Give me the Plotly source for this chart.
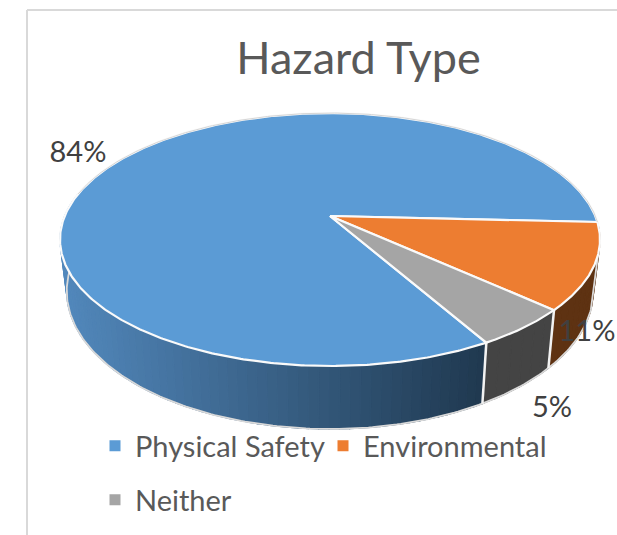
import numpy as np
import plotly.graph_objects as go

categories = ["Physical Safety", "Environmental", "Neither"]
shares = [84, 11, 5]
top_colors = ["#5B9BD5", "#ED7D31", "#A5A5A5"]
wall_left = [["#5288BC", "#1F384F"], ["#5F3312", "#5C3212"], ["#444444", "#434343"]]
label_pos = [(78, 155), (587, 334), (552, 410)]
FONT = "Lato"
TEXT = "#404040"

W, H = 617, 535
APEX = (330.0, 216.0)
SX, SY, K = 265.3, 122.1, 0.186
BX, BY, BOT_Y = 0.975, 1.09, 265.5
START = -60.4
VIS_LEFT = -190.7


def proj(a, bottom=False):
    r = np.radians(a)
    u, v = np.cos(r), np.sin(r)
    w = 1 + K * v
    X, Y = SX * u / w, SY * v / w
    if bottom:
        return APEX[0] + BX * X, BOT_Y - BY * Y
    return APEX[0] + X, APEX[1] - Y


def mix(c1, c2, t):
    a = [int(c1[i:i + 2], 16) for i in (1, 3, 5)]
    b = [int(c2[i:i + 2], 16) for i in (1, 3, 5)]
    return "#%02x%02x%02x" % tuple(round(p + (q - p) * t) for p, q in zip(a, b))


fig = go.Figure()


def poly(xs, ys, color, lw=1.2, fill=True, line=None):
    fig.add_trace(go.Scatter(
        x=list(xs), y=list(ys), mode="lines",
        fill="toself" if fill else None,
        fillcolor=color if fill else None,
        line=dict(color=line or color, width=lw),
        hoverinfo="skip", showlegend=False))


# slice angle ranges, clockwise from START
edges = START - np.cumsum([0] + shares) * 3.6
ranges = [(edges[i], edges[i + 1]) for i in range(len(shares))]

# walls (only the front part)
walls = [
    (0, -60.4, VIS_LEFT, 70),
    (1, ranges[1][0], ranges[1][1], 14),
    (2, ranges[2][0], ranges[2][1], 6),
]
x_min, x_max = 61.0, 487.0
for idx, a0, a1, n in walls:
    angs = np.linspace(a0, a1, n + 1)
    for p, q in zip(angs[:-1], angs[1:]):
        x1, y1 = proj(p)
        x2, y2 = proj(q)
        x3, y3 = proj(q, True)
        x4, y4 = proj(p, True)
        t = np.clip((x_max - (x1 + x2) / 2) / (x_max - x_min), 0, 1) if idx == 0 else 0.5
        col = mix(wall_left[idx][1], wall_left[idx][0], t)
        poly([x1, x2, x3, x4, x1], [y1, y2, y3, y4, y1], col)

# bottom rim, closed up to the top face at both silhouettes
aa = np.linspace(-10.8, VIS_LEFT, 240)
bx, by = proj(aa, True)
tlx, tly = proj(VIS_LEFT)
trx, try_ = proj(-10.8)
poly([trx, *bx, tlx], [try_, *by, tly], "#D9D9D9", lw=1.8, fill=False)

# wall separators
for a in [ranges[1][1], ranges[2][1]]:
    x1, y1 = proj(a)
    x2, y2 = proj(a, True)
    poly([x1, x2], [y1, y2], "#F2F2F2", lw=2.5, fill=False)

# top face
for (a0, a1), col in zip(ranges, top_colors):
    angs = np.linspace(a0, a1, max(8, int(abs(a1 - a0) * 2)))
    xs, ys = proj(angs)
    px = [APEX[0], *xs, APEX[0]]
    py = [APEX[1], *ys, APEX[1]]
    poly(px, py, col, lw=2.2, line="#FAFAFA")

# soft grey far rim
aa = np.linspace(-190.7, -362.8, 200)
rx, ry = proj(aa)
poly(rx, ry, "#D6D6D6", lw=1, fill=False)

# data labels
fig.add_trace(go.Scatter(
    x=[p[0] for p in label_pos], y=[p[1] for p in label_pos],
    mode="text", text=[f"{s}%" for s in shares],
    textfont=dict(family=FONT, size=29, color=TEXT),
    hoverinfo="skip", showlegend=False))

# legend entries
for i, (name, col) in enumerate(zip(categories, top_colors)):
    fig.add_trace(go.Scatter(
        x=[None], y=[None], mode="markers", name=name,
        marker=dict(symbol="square", size=11, color=col),
        legend="legend" if i < 2 else "legend2"))

legend_common = dict(
    orientation="h", xanchor="left", yanchor="middle",
    font=dict(family=FONT, size=29, color="#595959"),
    bgcolor="rgba(0,0,0,0)", borderwidth=0,
    entrywidth=183, entrywidthmode="pixels", itemclick=False, itemdoubleclick=False)

fig.update_layout(
    width=W, height=H, margin=dict(l=0, r=0, t=0, b=0),
    paper_bgcolor="white", plot_bgcolor="white",
    xaxis=dict(range=[0, W], visible=False, fixedrange=True),
    yaxis=dict(range=[H, 0], visible=False, fixedrange=True),
    title=dict(text="Hazard Type", x=358.5 / W, xanchor="center", y=1 - 58 / H, yanchor="middle",
               font=dict(family=FONT, size=45, color="#595959")),
    legend=dict(x=95 / W, y=1 - 446 / H, **legend_common),
    legend2=dict(x=95 / W, y=1 - 500 / H, **legend_common),
    shapes=[
        dict(type="line", xref="x", yref="y", x0=27, x1=27, y0=10, y1=H, line=dict(color="#D9D9D9", width=2)),
        dict(type="line", xref="x", yref="y", x0=27, x1=W, y0=10, y1=10, line=dict(color="#D9D9D9", width=2)),
    ],
)
fig.write_html("out.html", config={"displayModeBar": False},
               post_script="document.body.style.margin='0';document.documentElement.style.overflow='hidden';")
